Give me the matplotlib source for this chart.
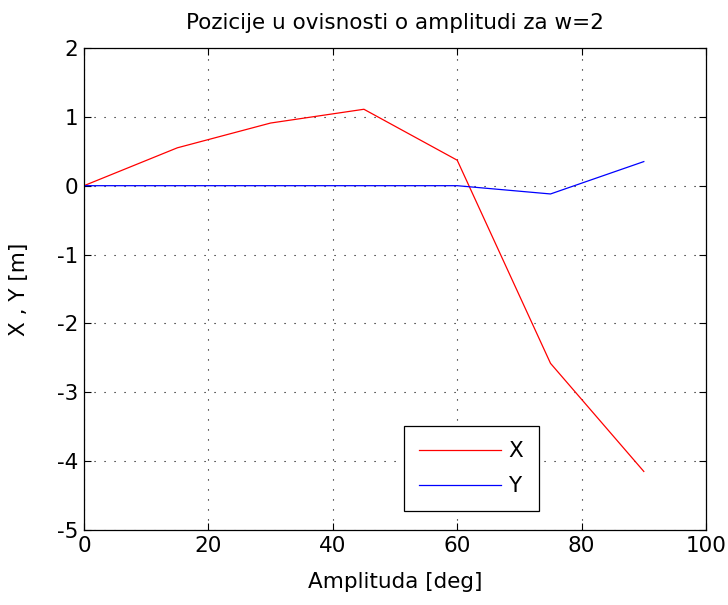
import matplotlib
matplotlib.use('Agg')
import matplotlib.pyplot as plt

# Amplituda [deg]
amplituda = [0, 15, 30, 45, 60, 75, 90]
# Pozicije
x_poz = [0, 0.55, 0.91, 1.11, 0.37, -2.58, -4.15]
y_poz = [0, 0, 0, 0, 0, -0.12, 0.35]

plt.rcParams['font.family'] = ['DejaVu Sans']
plt.rcParams['axes.unicode_minus'] = False

fig = plt.figure(figsize=(7.28, 6.05), dpi=100)
ax = fig.add_axes([0.1154, 0.124, 0.8544, 0.7967])

ax.plot(amplituda, x_poz, color='red', lw=0.9, label='X')
ax.plot(amplituda, y_poz, color='blue', lw=0.9, label='Y')

ax.set_xlim(0, 100)
ax.set_ylim(-5, 2)
ax.set_xticks(range(0, 101, 20))
ax.set_yticks(range(-5, 3))
ax.grid(True, color='black', linestyle=(0, (1, 8)), linewidth=0.8)
ax.tick_params(direction='in', top=True, right=True, length=5, width=0.8,
               labelsize=15.5, pad=4)
for s in ax.spines.values():
    s.set_linewidth(0.9)

ax.set_title('Pozicije u ovisnosti o amplitudi za w=2', fontsize=15.5, pad=14)
ax.set_xlabel('Amplituda [deg]', fontsize=15.5, labelpad=12)
ax.set_ylabel('X , Y [m]', fontsize=15.5, labelpad=20)

leg = ax.legend(loc='lower left', bbox_to_anchor=(0.514, 0.039, 0.217, 0.176),
                mode='expand', fancybox=False, framealpha=1, edgecolor='black',
                handlelength=3.8, handletextpad=0.35, fontsize=15.5,
                labelspacing=0.68, borderpad=0.7, borderaxespad=0)
leg.get_frame().set_linewidth(0.9)

fig.savefig('out.png', dpi=100)
